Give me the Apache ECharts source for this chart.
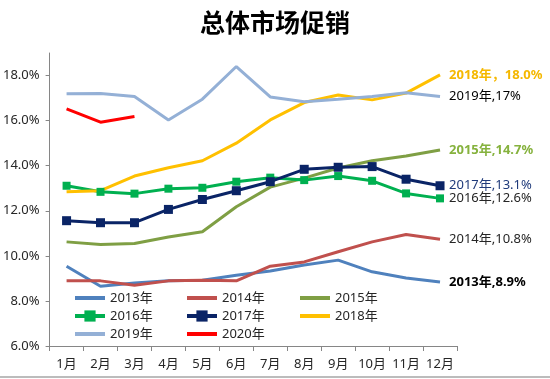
<!DOCTYPE html>
<html>
<head>
<meta charset="utf-8">
<script src="https://cdn.jsdelivr.net/npm/echarts@6/dist/echarts.min.js"></script>
<style>
html,body{margin:0;padding:0;background:#fff;}
#c{width:550px;height:379px;}
</style>
</head>
<body>
<div id="c"></div>
<script>
var titleText = '总体市场促销';
var months = ['1月','2月','3月','4月','5月','6月','7月','8月','9月','10月','11月','12月'];
var yTicks = [6, 8, 10, 12, 14, 16, 18];

var s2013 = [9.54, 8.65, 8.80, 8.89, 8.92, 9.14, 9.33, 9.59, 9.81, 9.29, 9.02, 8.84];
var s2014 = [8.89, 8.89, 8.70, 8.89, 8.92, 8.89, 9.54, 9.73, 10.18, 10.62, 10.95, 10.74];
var s2015 = [10.62, 10.50, 10.55, 10.84, 11.07, 12.18, 13.05, 13.45, 13.90, 14.22, 14.43, 14.70];
var s2016 = [13.11, 12.84, 12.76, 12.98, 13.02, 13.29, 13.47, 13.36, 13.54, 13.33, 12.77, 12.55];
var s2017 = [11.56, 11.47, 11.47, 12.06, 12.50, 12.89, 13.29, 13.84, 13.93, 13.96, 13.40, 13.11];
var s2018 = [12.84, 12.89, 13.54, 13.91, 14.22, 15.00, 16.03, 16.80, 17.14, 16.92, 17.22, 18.03];
var s2019 = [17.19, 17.20, 17.07, 16.03, 16.95, 18.40, 17.05, 16.84, 16.95, 17.07, 17.24, 17.07];
var s2020 = [16.52, 15.93, 16.18];

var seriesNames = ['2013年','2014年','2015年','2016年','2017年','2018年','2019年','2020年'];
var endLabels = ['2013年,8.9%','2014年,10.8%','2015年,14.7%','2016年,12.6%','2017年,13.1%','2018年，18.0%','2019年,17%',''];

var FONT = '"Noto Sans", "Noto Sans CJK SC", sans-serif';
var colors = ['#4F81BD','#C0504D','#7F9F44','#00B050','#0A2466','#FFC000','#94B0D6','#FF0000'];
var labelColors = ['#000000','#262626','#86B23E','#262626','#1F3A7A','#F5B800','#000000',''];
var labelBold = [true,false,true,false,false,true,false,false];
var symbols = ['none','none','none','rect','rect','none','none','none'];
var symbolSizes = [0,0,0,8,9,0,0,0];
var allData = [s2013,s2014,s2015,s2016,s2017,s2018,s2019,s2020];

var series = allData.map(function(d, i){
  return {
    name: seriesNames[i],
    type: 'line',
    data: d,
    symbol: symbols[i],
    symbolSize: symbolSizes[i],
    showSymbol: symbols[i] !== 'none',
    lineStyle: {width: 3, color: colors[i]},
    itemStyle: {color: colors[i]},
    emphasis: {disabled: true},
    endLabel: endLabels[i] ? {
      show: true,
      formatter: endLabels[i],
      color: labelColors[i],
      fontWeight: labelBold[i] ? 'bold' : 'normal',
      fontSize: 13,
      fontFamily: FONT,
      distance: 9
    } : {show: false}
  };
});

function legendItem(name){
  var i = seriesNames.indexOf(name);
  var item = {name: name, lineStyle: {width: 4}};
  if (symbols[i] === 'none') {
    item.itemStyle = {color: 'rgba(0,0,0,0)', borderWidth: 0};
  }
  return item;
}

function legendCol(names, left){
  return {
    orient: 'vertical',
    left: left,
    top: 291,
    itemWidth: 30,
    itemHeight: 14,
    itemGap: 4,
    padding: 0,
    selectedMode: false,
    data: names.map(legendItem),
    textStyle: {fontSize: 13, fontFamily: FONT, color: '#262626', lineHeight: 14}
  };
}

var chart = echarts.init(document.getElementById('c'), null, {renderer: 'canvas'});
chart.setOption({
  animation: false,
  backgroundColor: '#ffffff',
  title: {
    text: titleText,
    left: 'center',
    top: 5,
    textStyle: {fontSize: 25, fontWeight: 'bold', color: '#000', fontFamily: '"Noto Sans CJK SC", sans-serif'}
  },
  legend: [
    legendCol(['2013年','2016年','2019年'], 73),
    legendCol(['2014年','2017年','2020年'], 185),
    legendCol(['2015年','2018年'], 298)
  ],
  grid: {left: 49, right: 93, top: 53, bottom: 33, containLabel: false},
  xAxis: {
    type: 'category',
    data: months,
    boundaryGap: true,
    axisLine: {lineStyle: {color: '#868686', width: 1}},
    axisTick: {show: true, length: 5, lineStyle: {color: '#868686'}},
    axisLabel: {fontSize: 13, color: '#262626', fontFamily: FONT, margin: 12, interval: 0},
    splitLine: {show: false}
  },
  yAxis: {
    type: 'value',
    min: 6,
    max: 19,
    interval: 2,
    axisLine: {show: true, lineStyle: {color: '#868686', width: 1}},
    axisTick: {show: true, length: 4, lineStyle: {color: '#868686'}},
    axisLabel: {
      fontSize: 13, color: '#262626', fontFamily: FONT, margin: 10,
      showMaxLabel: false,
      formatter: function(v){ return yTicks.indexOf(v) >= 0 ? v.toFixed(1) + '%' : ''; }
    },
    splitLine: {show: false}
  },
  graphic: [{
    type: 'line',
    shape: {x1: 0, y1: 377, x2: 550, y2: 377},
    style: {stroke: '#A6A6A6', lineWidth: 1.5}
  }],
  series: series
});
</script>
</body>
</html>
